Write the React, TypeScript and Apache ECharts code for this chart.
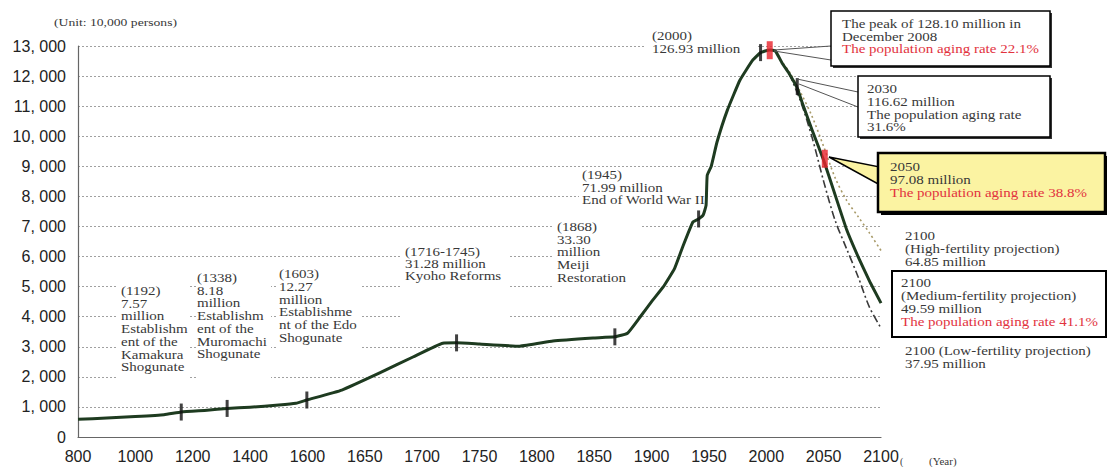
import React, { useEffect, useRef } from "react";
import * as echarts from "echarts";

// x-axis tick labels (non-uniform spacing: equal distance between successive labels)
const tickYears = [800, 1000, 1200, 1400, 1600, 1650, 1700, 1750, 1800, 1850, 1900, 1950, 2000, 2050, 2100];

// historical population + medium-fertility projection (unit: 10,000 persons)
const mainYears = [800, 900, 1000, 1100, 1160, 1250, 1320, 1400, 1500, 1560, 1598, 1630, 1663, 1692, 1718, 1730, 1750, 1785, 1814, 1849, 1868, 1879, 1890, 1900, 1910, 1920, 1927, 1936, 1941, 1945, 1947.5, 1948.5, 1952, 1957, 1966, 1977, 1988, 1995, 2003, 2008, 2014, 2020, 2027, 2031, 2040, 2050, 2060, 2070, 2080, 2090, 2100];
const mainValues = [590, 630, 680, 740, 830, 890, 950, 990, 1060, 1120, 1230, 1560, 2130, 2660, 3120, 3130, 3090, 3020, 3190, 3290, 3330, 3450, 3990, 4500, 4980, 5600, 6310, 7150, 7250, 7380, 7700, 8700, 9000, 9800, 10860, 11860, 12520, 12780, 12870, 12830, 12420, 12080, 11600, 11150, 10200, 9200, 8050, 6900, 6000, 5180, 4450];

// low-fertility projection
const lowYears = [2020, 2030, 2040, 2050, 2060, 2070, 2080, 2090, 2100];
const lowValues = [12080, 11150, 9950, 8500, 7200, 6260, 5330, 4310, 3620];

// high-fertility projection
const highYears = [2012, 2020, 2030, 2040, 2050, 2060, 2070, 2080, 2090, 2100];
const highValues = [12550, 12150, 11450, 10650, 9660, 8620, 7870, 7330, 6780, 6200];

// event markers on the curve
const blackMarkYears = [1160, 1320, 1598, 1730, 1868, 1941, 1995, 2027];
const blackMarkValues = [830, 950, 1230, 3130, 3330, 7250, 12780, 11650];
const redMarkYears = [2003, 2051];
const redMarkValues = [12860, 9250];

function yearToPos(y: number): number {
  const t = tickYears;
  for (let i = 0; i < t.length - 1; i++) {
    if (y <= t[i + 1]) return i + (y - t[i]) / (t[i + 1] - t[i]);
  }
  const n = t.length - 1;
  return n + (y - t[n]) / (t[n] - t[n - 1]);
}

const pairs = (ys: number[], vs: number[]) => ys.map((y, i) => [yearToPos(y), vs[i]]);

const SERIF = "Liberation Serif";
const TXT = "#383838";
const RED = "#e2323e";

function txt(x: number, y: number, text: string, fill = TXT, lh = 12.8, size = 12.5, sx = 1.2, z = 20) {
  return {
    type: "text",
    x,
    y,
    scaleX: sx,
    z,
    style: { text, fill, fontSize: size, fontFamily: SERIF, lineHeight: lh, align: "left", verticalAlign: "top" },
  };
}

function whiteBox(x: number, y: number, w: number, h: number) {
  return { type: "rect", z: 1, shape: { x, y, width: w, height: h }, style: { fill: "#ffffff" } };
}

export default function App() {
  const ref = useRef<HTMLDivElement>(null);
  useEffect(() => {
    document.body.style.margin = "0";
    const chart = echarts.init(ref.current!, null, { renderer: "svg" });
    const fmtY = (v: number) => (v === 0 ? "0" : `${Math.floor(v / 1000)}, ${String(v % 1000).padStart(3, "0")}`);
    chart.setOption({
      animation: false,
      grid: { left: 78, top: 46, width: 803, height: 391, containLabel: false },
      xAxis: {
        type: "value",
        min: 0,
        max: tickYears.length - 1,
        interval: 1,
        axisLine: { show: true, lineStyle: { color: "#666", width: 1.2 } },
        axisTick: { show: false },
        splitLine: { show: false },
        axisLabel: {
          margin: 11,
          fontSize: 16,
          fontFamily: "Liberation Sans",
          color: "#222",
          showMinLabel: true,
          showMaxLabel: true,
          formatter: (v: number) => String(tickYears[Math.round(v)] ?? ""),
        },
      },
      yAxis: {
        type: "value",
        min: 0,
        max: 13000,
        interval: 1000,
        axisLine: { show: true, lineStyle: { color: "#666", width: 1.2 } },
        axisTick: { show: false },
        splitLine: { show: true, lineStyle: { color: "#a0a0a0", width: 1, type: [2, 2] } },
        axisLabel: { margin: 12, fontSize: 16, fontFamily: "Liberation Sans", color: "#222", formatter: fmtY },
      },
      series: [
        {
          type: "line",
          data: pairs(highYears, highValues),
          symbol: "none",
          smooth: 0.3,
          lineStyle: { color: "#a89a68", width: 1.6, type: [2, 3] },
          z: 2,
        },
        {
          type: "line",
          data: pairs(lowYears, lowValues),
          symbol: "none",
          smooth: 0.3,
          lineStyle: { color: "#3a3a3a", width: 1.6, type: [8, 3, 2, 3] },
          z: 2,
        },
        {
          type: "line",
          data: pairs(mainYears, mainValues),
          symbol: "none",
          smooth: 0.12,
          lineStyle: { color: "#1e3b20", width: 3, join: "round" },
          z: 3,
        },
        {
          type: "scatter",
          data: pairs(blackMarkYears, blackMarkValues),
          symbol: "rect",
          symbolSize: [3, 17],
          itemStyle: { color: "#111" },
          z: 4,
        },
        {
          type: "scatter",
          data: pairs(redMarkYears, redMarkValues),
          symbol: "rect",
          symbolSize: [6, 18],
          itemStyle: { color: "#e8232c" },
          z: 4,
        },
      ],
      graphic: [
        // white backgrounds behind annotation texts (hide grid lines)
        whiteBox(117, 280, 73, 108),
        whiteBox(196, 268, 75, 120),
        whiteBox(277, 262, 83, 110),
        whiteBox(402, 240, 107, 85),
        whiteBox(554, 214, 87, 92),
        whiteBox(579, 167, 127, 41),
        whiteBox(646, 28, 111, 30),
        // unit + axis title
        txt(54, 17, "(Unit: 10,000 persons)", TXT, 12, 10.5, 1.3),
        txt(900, 455, "(", TXT, 12, 10, 1),
        txt(929, 456, "(Year)", TXT, 12, 10, 1.1),
        // left annotations
        txt(121, 284.6, "(1192)\n7.57\nmillion\nEstablishm\nent of the\nKamakura\nShogunate", TXT, 12.7),
        txt(197, 271.6, "(1338)\n8.18\nmillion\nEstablishm\nent of the\nMuromachi\nShogunate", TXT, 12.7),
        txt(279, 267.6, "(1603)\n12.27\nmillion\nEstablishme\nnt of the Edo\nShogunate", TXT, 12.8),
        txt(405, 245.6, "(1716-1745)\n31.28 million\nKyoho Reforms", TXT, 12.3),
        txt(557, 220.6, "(1868)\n33.30\nmillion\nMeiji\nRestoration", TXT, 12.7),
        txt(582, 168.8, "(1945)\n71.99 million\nEnd of World War II", TXT, 12.5),
        txt(652, 29.6, "(2000)\n126.93 million", TXT, 13),
        // leader lines
        { type: "line", z: 6, shape: { x1: 774, y1: 50, x2: 831, y2: 46 }, style: { stroke: "#555", lineWidth: 1 } },
        { type: "line", z: 6, shape: { x1: 774, y1: 51, x2: 831, y2: 60 }, style: { stroke: "#555", lineWidth: 1 } },
        { type: "line", z: 6, shape: { x1: 797, y1: 79, x2: 858, y2: 92 }, style: { stroke: "#555", lineWidth: 1 } },
        { type: "line", z: 6, shape: { x1: 799, y1: 84, x2: 858, y2: 107 }, style: { stroke: "#555", lineWidth: 1 } },
        {
          type: "polygon",
          z: 7,
          shape: { points: [[829, 157], [880, 167], [880, 185]] },
          style: { fill: "#fbf3a2", stroke: "#000", lineWidth: 1.5 },
        },
        // box A
        { type: "rect", z: 8, shape: { x: 833, y: 13, width: 219, height: 55 }, style: { fill: "#333" } },
        { type: "rect", z: 9, shape: { x: 831, y: 11, width: 219, height: 55 }, style: { fill: "#fff", stroke: "#000", lineWidth: 1.5 } },
        txt(842, 17.7, "The peak of 128.10 million in\nDecember 2008", TXT, 12.5),
        txt(842, 42.7, "The population aging rate 22.1%", RED, 12.5),
        // box B
        { type: "rect", z: 8, shape: { x: 860, y: 78, width: 192, height: 61 }, style: { fill: "#333" } },
        { type: "rect", z: 9, shape: { x: 858, y: 76, width: 192, height: 61 }, style: { fill: "#fff", stroke: "#000", lineWidth: 1.5 } },
        txt(867, 82.7, "2030\n116.62 million\nThe population aging rate\n31.6%", TXT, 12.7),
        // box C (yellow)
        { type: "rect", z: 8, shape: { x: 881, y: 156, width: 227, height: 59 }, style: { fill: "#000" } },
        { type: "rect", z: 9, shape: { x: 878, y: 153, width: 227, height: 59 }, style: { fill: "#fbf3a2", stroke: "#000", lineWidth: 2.5 } },
        txt(890, 160.7, "2050\n97.08 million", TXT, 13),
        txt(890, 186.7, "The population aging rate 38.8%", RED, 13),
        // high projection text
        txt(905, 229.7, "2100\n(High-fertility projection)\n64.85 million", TXT, 12.9),
        // box D
        { type: "rect", z: 9, shape: { x: 892, y: 271, width: 214, height: 66 }, style: { fill: "#fff", stroke: "#000", lineWidth: 2 } },
        txt(901, 276.7, "2100\n(Medium-fertility projection)\n49.59 million", TXT, 13),
        txt(901, 315.7, "The population aging rate 41.1%", RED, 13),
        // low projection text
        txt(905, 344.7, "2100 (Low-fertility projection)\n37.95 million", TXT, 12.5),
      ],
    });
    return () => chart.dispose();
  }, []);
  return <div ref={ref} style={{ width: 1107, height: 467 }} />;
}
